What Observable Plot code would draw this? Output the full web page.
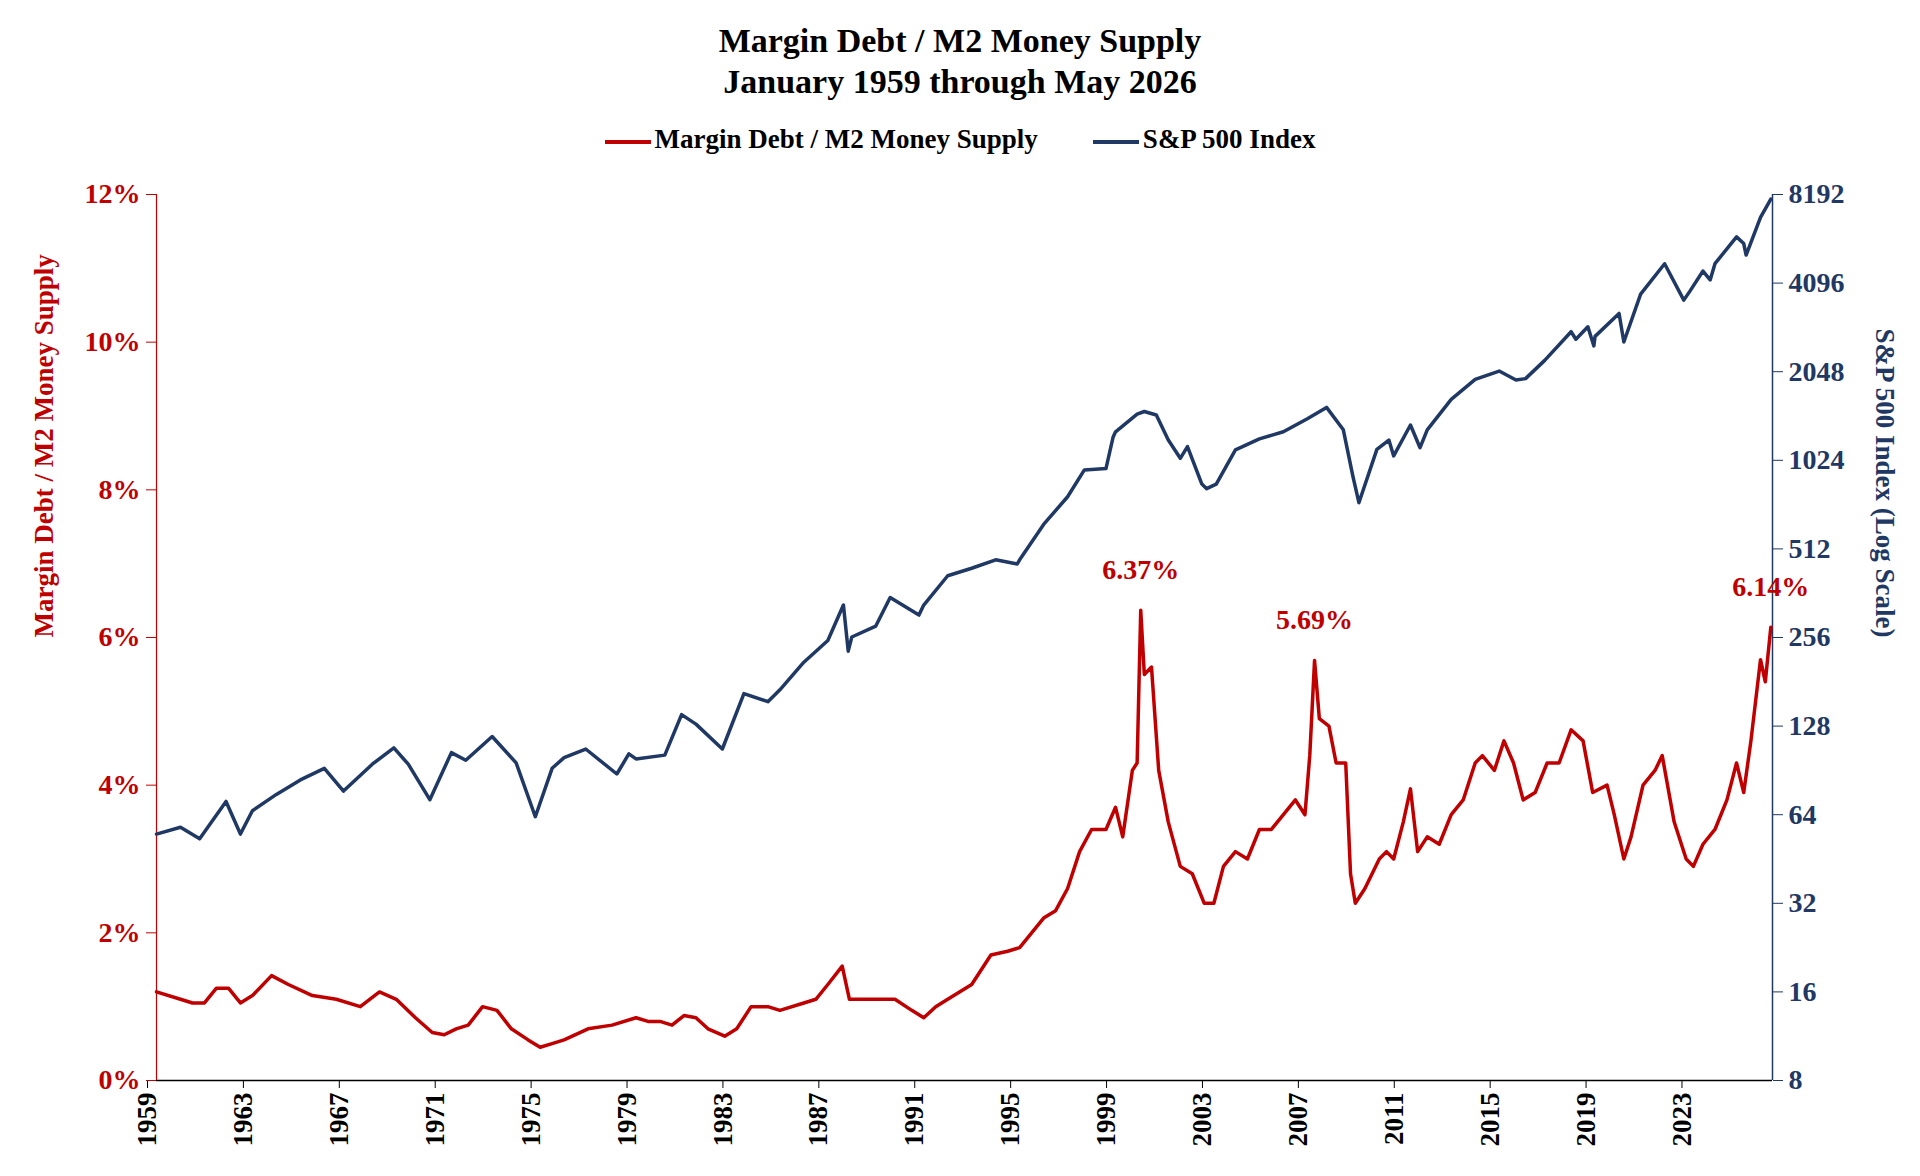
<!DOCTYPE html>
<html><head><meta charset="utf-8">
<script src="https://cdn.jsdelivr.net/npm/d3@7"></script>
<script src="https://cdn.jsdelivr.net/npm/@observablehq/plot@0.6"></script>
<style>
body{margin:0;background:#fff;font-family:"Liberation Serif","Times New Roman",serif;}
#title{text-align:center;font-weight:bold;font-size:34px;line-height:41px;padding-top:20px;color:#000}
#legend{display:flex;justify-content:center;gap:55px;font-weight:bold;font-size:27px;margin-top:20px;height:35px;align-items:center}
.sw{display:inline-block;width:46px;height:4px;vertical-align:middle;margin-right:4px}
</style></head><body>
<div id="title">Margin Debt / M2 Money Supply<br>January 1959 through May 2026</div>
<div id="legend"><span><span class="sw" style="background:#C00000"></span>Margin Debt / M2 Money Supply</span><span><span class="sw" style="background:#1F3864"></span>S&amp;P 500 Index</span></div>
<div id="chart"></div>
<script>
const mdYears=[1959,1960,1960.5,1961,1961.5,1962,1962.5,1963,1963.8,1964.5,1965.5,1966.5,1967.5,1968.3,1969,1969.8,1970.5,1971,1971.5,1972,1972.6,1973.2,1973.8,1974.5,1975,1975.5,1976,1977,1978,1979,1979.5,1980,1980.5,1981,1981.5,1982,1982.7,1983.2,1983.8,1984.5,1985,1986,1986.5,1987,1987.6,1987.9,1989,1989.8,1990.5,1991,1991.5,1992,1993,1993.8,1994.5,1995,1995.5,1996,1996.5,1997,1997.5,1998,1998.6,1999,1999.3,1999.7,1999.9,2000.05,2000.2,2000.5,2000.8,2001.2,2001.7,2002.2,2002.7,2003.1,2003.5,2004,2004.5,2005,2005.5,2006,2006.5,2006.9,2007.1,2007.3,2007.5,2007.9,2008.2,2008.6,2008.8,2009.0,2009.4,2010,2010.3,2010.6,2011,2011.3,2011.6,2012,2012.5,2013,2013.5,2014,2014.3,2014.8,2015.2,2015.6,2016,2016.5,2017,2017.5,2018,2018.5,2018.9,2019.5,2019.8,2020.2,2020.5,2021,2021.5,2021.8,2022.3,2022.8,2023.1,2023.5,2024,2024.5,2024.9,2025.2,2025.5,2025.9,2026.1,2026.33];
const mdValues=[1.2,1.1,1.05,1.05,1.25,1.25,1.05,1.15,1.42,1.3,1.15,1.1,1.0,1.2,1.1,0.85,0.65,0.62,0.7,0.75,1.0,0.95,0.7,0.55,0.45,0.5,0.55,0.7,0.75,0.85,0.8,0.8,0.75,0.88,0.85,0.7,0.6,0.7,1.0,1.0,0.95,1.05,1.1,1.3,1.55,1.1,1.1,1.1,0.95,0.85,1.0,1.1,1.3,1.7,1.75,1.8,2.0,2.2,2.3,2.6,3.1,3.4,3.4,3.7,3.3,4.2,4.3,6.37,5.5,5.6,4.2,3.5,2.9,2.8,2.4,2.4,2.9,3.1,3.0,3.4,3.4,3.6,3.8,3.6,4.4,5.69,4.9,4.8,4.3,4.3,2.8,2.4,2.6,3.0,3.1,3.0,3.5,3.95,3.1,3.3,3.2,3.6,3.8,4.3,4.4,4.2,4.6,4.3,3.8,3.9,4.3,4.3,4.75,4.6,3.9,4.0,3.6,3.0,3.3,4.0,4.2,4.4,3.5,3.0,2.9,3.2,3.4,3.8,4.3,3.9,4.6,5.7,5.4,6.14];
const spYears=[1959,1960,1960.8,1961.9,1962.5,1963,1964,1965,1966,1966.8,1968,1968.9,1969.5,1970.4,1971.3,1971.9,1973,1974,1974.8,1975.5,1976,1976.9,1978.2,1978.7,1979,1980.2,1980.9,1981.5,1982.6,1983.5,1984.5,1985,1986,1987,1987.65,1987.85,1988,1989,1989.6,1990.8,1991,1992,1993,1994,1994.9,1995,1996,1997,1997.7,1998.6,1998.9,1999,1999.9,2000.2,2000.7,2001.2,2001.7,2002,2002.6,2002.8,2003.2,2004,2005,2006,2007,2007.8,2008.5,2008.9,2009.15,2009.9,2010.4,2010.6,2011.3,2011.7,2012,2013,2014,2015,2015.7,2016.1,2016.9,2018,2018.2,2018.7,2018.95,2019,2020,2020.2,2020.9,2021.9,2022.7,2022.95,2023.5,2023.8,2024,2024.9,2025.2,2025.3,2025.9,2026.33];
const spValues=[55,58,53,71,55,66,75,84,92,77,95,108,95,72,104,98,118,96,63,92,100,107,88,103,99,102,140,130,107,165,155,170,211,250,330,230,257,280,350,305,330,415,440,470,455,470,620,770,950,960,1229,1280,1469,1500,1460,1200,1040,1140,850,820,850,1111,1211,1280,1418,1549,1300,903,735,1115,1200,1060,1350,1130,1300,1650,1930,2058,1920,1940,2238,2800,2640,2910,2506,2700,3230,2584,3756,4766,3585,3839,4500,4200,4769,5881,5580,5100,6850,7900];
const leftTicks=[0,2,4,6,8,10,12];
const rightTicks=[8,16,32,64,128,256,512,1024,2048,4096,8192];
const xTicks=[1959,1963,1967,1971,1975,1979,1983,1987,1991,1995,1999,2003,2007,2011,2015,2019,2023];
const peakYears=[2000.05,2007.3,2026.33];
const peakValues=[6.37,5.69,6.14];
const peakLabels=["6.37%","5.69%","6.14%"];

const toLeft=v=>(Math.log2(v)-3)/10*12;
const md=mdYears.map((x,i)=>({x,y:mdValues[i]}));
const sp=spYears.map((x,i)=>({x,y:toLeft(spValues[i])}));
const peaks=peakYears.map((x,i)=>({x,y:peakValues[i],t:peakLabels[i]}));
const RED="#C00000",NAVY="#1F3864";
const chart=Plot.plot({
  width:1920,height:1006,marginTop:37,marginBottom:83,marginLeft:156,marginRight:148,
  style:{fontFamily:"Liberation Serif, Times New Roman, serif",fontSize:"28px",fontWeight:"bold",background:"white"},
  x:{domain:[1959,2026.4]},
  y:{domain:[0,12]},
  marks:[
    Plot.axisX(xTicks,{tickFormat:d=>String(d),tickRotate:-90,tickSize:8,fontSize:27,fontWeight:"bold",stroke:"#000",color:"#000",label:null,textAnchor:"end",dy:0,dx:-9,tickPadding:4}),
    Plot.ruleY([0],{stroke:"#000",strokeWidth:1.5}),
    Plot.axisY(leftTicks,{anchor:"left",tickFormat:d=>d+"%",tickSize:10,color:RED,stroke:RED,fontSize:28,label:null,tickPadding:6}),
    Plot.ruleX([1959],{stroke:RED,strokeWidth:1.2}),
    Plot.axisY(rightTicks.map(toLeft),{anchor:"right",tickFormat:(d,i)=>String(rightTicks[i]),tickSize:10,color:NAVY,stroke:NAVY,fontSize:28,label:null,tickPadding:6}),
    Plot.ruleX([2026.4],{stroke:NAVY,strokeWidth:1.5}),
    Plot.line(sp,{x:"x",y:"y",stroke:NAVY,strokeWidth:3.5}),
    Plot.line(md,{x:"x",y:"y",stroke:RED,strokeWidth:3.5}),
    Plot.text(peaks,{x:"x",y:"y",text:"t",fill:RED,dy:-40,fontSize:28,fontWeight:"bold"}),
    Plot.text(["Margin Debt / M2 Money Supply"],{frameAnchor:"left",dx:-112,rotate:-90,fill:RED,fontSize:27,fontWeight:"bold"}),
    Plot.text(["S&P 500 Index (Log Scale)"],{frameAnchor:"right",dx:112,rotate:90,fill:NAVY,fontSize:27,fontWeight:"bold"})
  ]
});
document.getElementById("chart").appendChild(chart);
</script></body></html>
